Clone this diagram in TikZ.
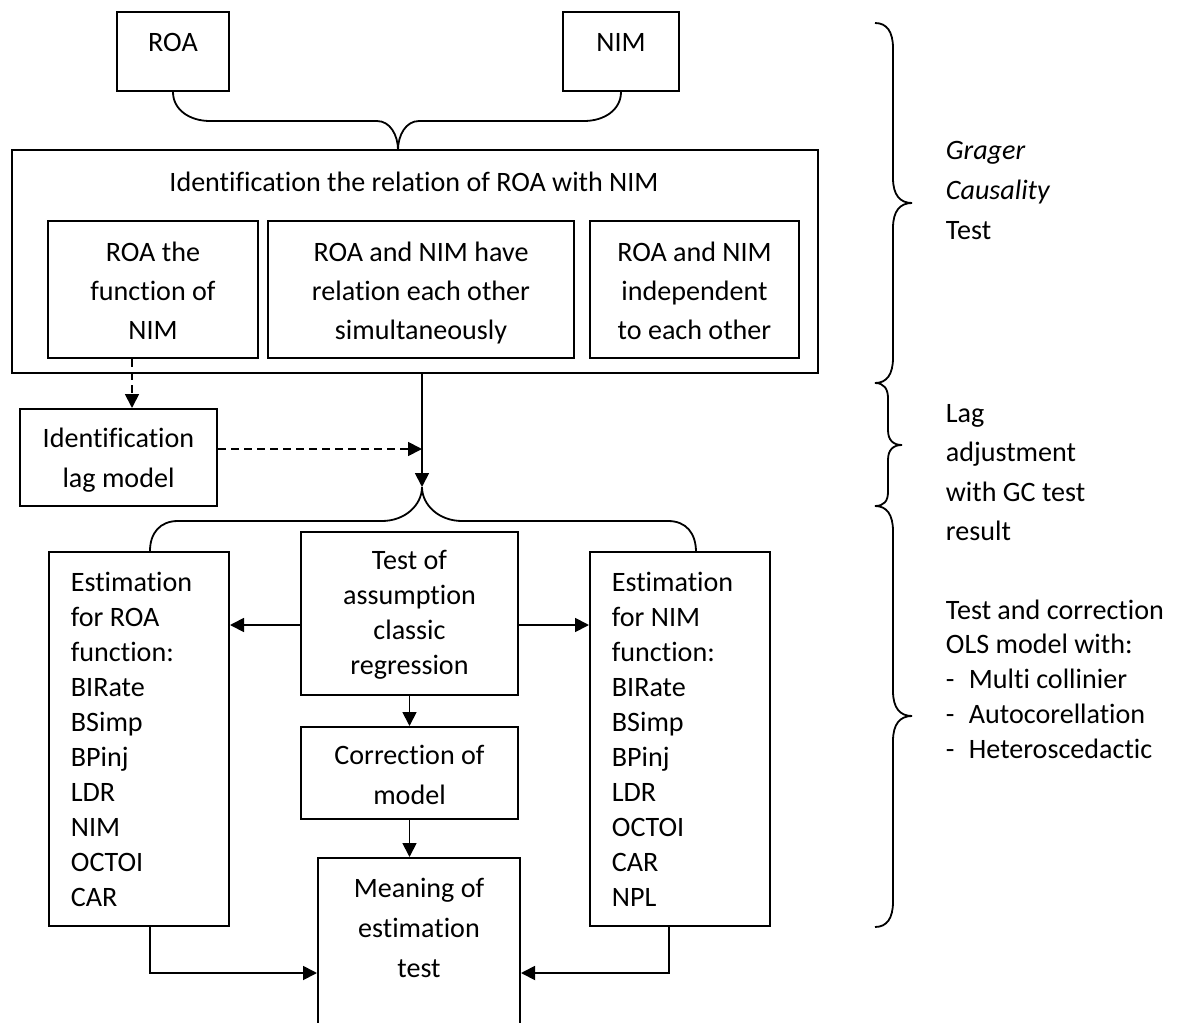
\documentclass[tikz,border=0pt]{standalone}
\usepackage{fontspec}
\setmainfont{Carlito}[Ligatures=NoCommon]
\usetikzlibrary{arrows.meta,fit}
\newcommand\myfs[1]{\fontsize{14.05pt}{#1pt}\selectfont}
\begin{document}
\begin{tikzpicture}[x=0.5pt,y=-0.5pt,line width=0.9pt,
  box/.style={draw,rectangle,inner sep=0pt,line width=1pt},
  txt/.style={inner sep=0pt,anchor=base,align=flush center,font=\myfs{#1}},
  ltxt/.style={inner sep=0pt,anchor=base west,align=flush left,text width=120pt,font=\myfs{#1}},
  arr/.style={-{Triangle[length=7pt,width=7pt]}},
  dsh/.style={dash pattern=on 4pt off 2.5pt}]
\useasboundingbox (0,0) rectangle (1180,1023);
% boxes
\node[box,fit={(117,12)(229,91)}] (roa) {};
\node[box,fit={(563,12)(679,91)}] (nim) {};
\node[box,fit={(12,150)(818,373)}] (big) {};
\node[box,fit={(48,221)(258,358)}] (b1) {};
\node[box,fit={(268,221)(574,358)}] (b2) {};
\node[box,fit={(590,221)(799,358)}] (b3) {};
\node[box,fit={(20,409)(217,506)}] (lag) {};
\node[box,fit={(49,552)(229,926)}] (lb) {};
\node[box,fit={(301,532)(518,695)}] (test) {};
\node[box,fit={(590,552)(770,926)}] (rb) {};
\node[box,fit={(301,727)(518,819)}] (corr) {};
\node[box,fit={(318,858)(520,1045)}] (mean) {};
% texts
\node[txt=19.5] (troa) at (173,51) {ROA};
\node[txt=19.5] (tnim) at (621,51) {NIM};
\node[txt=19.5] (tbig) at (414,191) {Identification the relation of ROA with NIM};
\node[txt=19.5,text width=100pt] (tb1) at (153,261) {ROA the\\function of\\NIM};
\node[txt=19.5,text width=150pt] (tb2) at (421,261) {ROA and NIM have\\relation each other\\simultaneously};
\node[txt=19.5,text width=100pt] (tb3) at (694.5,261) {ROA and NIM\\independent\\to each other};
\node[txt=20,text width=95pt] (tlag) at (118.5,447) {Identification\\lag model};
\node[txt=17.5,text width=105pt] (ttest) at (409.5,569) {Test of\\assumption\\classic\\regression};
\node[ltxt=17.5,text width=80pt] (tlb) at (70,591) {Estimation\\for ROA\\function:\\BIRate\\BSimp\\BPinj\\LDR\\NIM\\OCTOI\\CAR};
\node[ltxt=17.5,text width=80pt] (trb) at (611,591) {Estimation\\for NIM\\function:\\BIRate\\BSimp\\BPinj\\LDR\\OCTOI\\CAR\\NPL};
\node[txt=20,text width=105pt] (tcorr) at (409.5,764) {Correction of\\model};
\node[txt=20,text width=100pt] (tmean) at (419,897) {Meaning of\\estimation\\test};
\node[ltxt=20] (tgc) at (945,159) {\textit{Grager}\\\textit{Causality}\\Test};
\node[ltxt=19.8] (tlagadj) at (945,422) {Lag\\adjustment\\with GC test\\result};
\node[ltxt=17.4] (tols) at (945,619) {Test and correction\\OLS model with:\\\makebox[11.5pt][l]{-}Multi collinier\\\makebox[11.5pt][l]{-}Autocorellation\\\makebox[11.5pt][l]{-}Heteroscedactic};
% helper coordinates
\coordinate (tip1) at (398,150);
\coordinate (tip2) at (422,487);
\coordinate (dX) at (132,0);
\coordinate (dY) at (0,449);
\coordinate (aY) at (0,625);
\coordinate (cL) at (150,973);
\coordinate (cR) at (669,973);
\coordinate (rbE) at (696,552);
% top brace
\draw (roa.south) .. controls (173,110) and (190,121) .. (210,121) -- (377,121) .. controls (390,121) and (398,135) .. (tip1);
\draw (nim.south) .. controls (621,110) and (604,121) .. (584,121) -- (419,121) .. controls (406,121) and (398,135) .. (tip1);
% connectors
\draw[dsh,arr] (b1.south -| dX) -- (lag.north -| dX);
\draw[arr] (big.south -| tip2) -- (tip2);
\draw[dsh,arr] (lag.east |- dY) -- (tip2 |- dY);
% lower brace
\draw (lb.north -| cL) .. controls (150,533) and (160,521) .. (178,521) -- (382,521) .. controls (405,521) and (422,505) .. (tip2);
\draw (rbE) .. controls (696,533) and (686,521) .. (668,521) -- (462,521) .. controls (439,521) and (422,505) .. (tip2);
\draw[arr] (test.west |- aY) -- (lb.east |- aY);
\draw[arr] (test.east |- aY) -- (rb.west |- aY);
\draw[arr] (test.south) -- (corr.north);
\draw[arr] (corr.south) -- (corr.south |- mean.north);
\draw[arr] (lb.south -| cL) -- (cL) -- (mean.west |- cL);
\draw[arr] (rb.south -| cR) -- (cR) -- (mean.east |- cR);
% right braces
\draw (875,23) .. controls (887,23) and (893,32) .. (893,48) -- (893,178) .. controls (893,195) and (900,203) .. (912,203) .. controls (900,203) and (893,211) .. (893,228) -- (893,358) .. controls (893,374) and (887,383) .. (875,383);
\draw (875,383) .. controls (884,383) and (888,389) .. (888,398) -- (888,430) .. controls (888,440) and (893,445) .. (902,445) .. controls (893,445) and (888,450) .. (888,460) -- (888,492) .. controls (888,501) and (884,506) .. (875,506);
\draw (875,506) .. controls (887,506) and (893,515) .. (893,531) -- (893,691) .. controls (893,708) and (900,716) .. (912,716) .. controls (900,716) and (893,724) .. (893,741) -- (893,902) .. controls (893,918) and (887,927) .. (875,927);
\end{tikzpicture}
\end{document}
